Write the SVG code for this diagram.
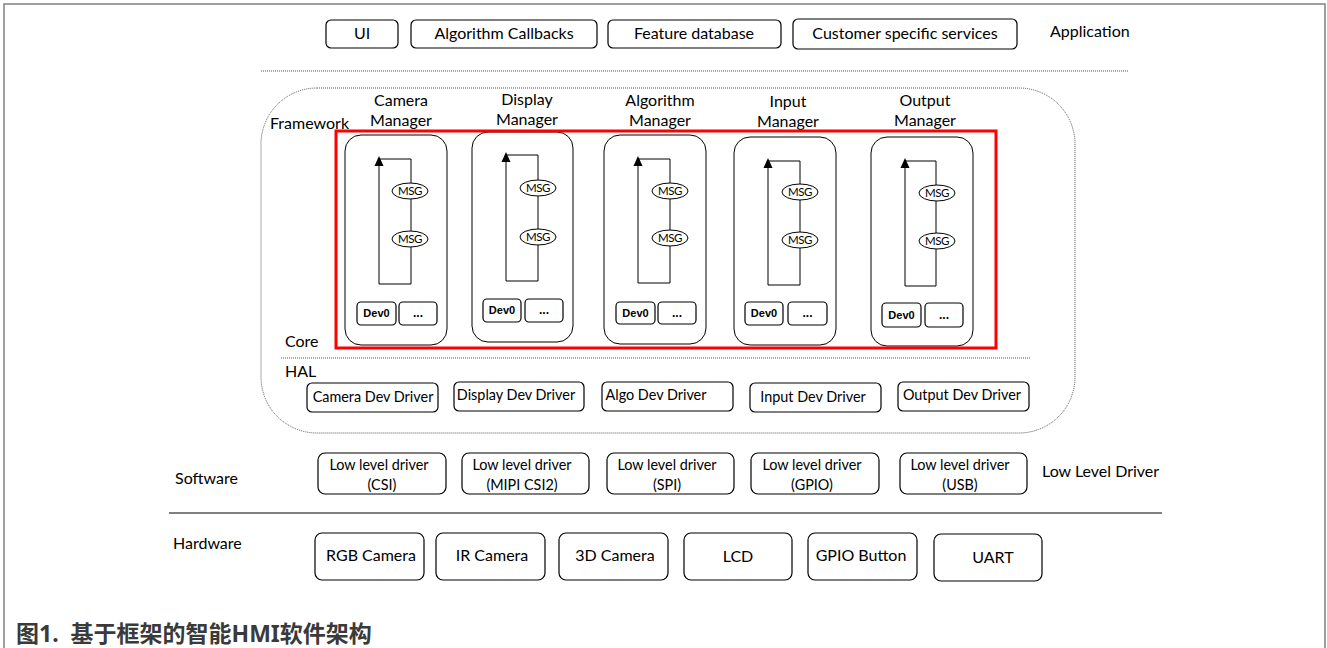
<svg xmlns="http://www.w3.org/2000/svg" width="1327" height="648" viewBox="0 0 1327 648">
<style>
.t{font-family:Lato,"Liberation Sans",sans-serif;font-size:16px;fill:#000;text-anchor:middle}
.ts{font-family:Lato,"Liberation Sans",sans-serif;font-size:14.4px;fill:#000;text-anchor:middle}
.lbl{font-family:Lato,"Liberation Sans",sans-serif;font-size:16px;fill:#000}
.box{fill:#fff;stroke:#000;stroke-width:1.2}
.mgr{fill:none;stroke:#000;stroke-width:1}
.loop{fill:none;stroke:#000;stroke-width:1}
.msg{fill:#fff;stroke:#000;stroke-width:1}
.msgt{font-family:Lato,"Liberation Sans",sans-serif;font-size:11.5px;fill:#000;text-anchor:middle;letter-spacing:-0.5px}
.dev{fill:#fff;stroke:#000;stroke-width:1.2}
.devt{font-family:"Liberation Sans",Arial,sans-serif;font-size:11px;font-weight:bold;fill:#000;text-anchor:middle}
.dots{font-family:"Liberation Sans",Arial,sans-serif;font-size:12px;font-weight:bold;fill:#000;text-anchor:middle}
.dotted{fill:none;stroke:#555;stroke-width:1;stroke-dasharray:1 1}
</style>
<rect width="1327" height="648" fill="#fff"/>
<path d="M4,648 V4 H1325 V648" fill="none" stroke="#808080" stroke-width="1.5"/>

<!-- Application row -->
<g id="app">
<rect class="box" x="326" y="20" width="72" height="28" rx="5"/><text class="t" x="362" y="39">UI</text>
<rect class="box" x="411" y="20" width="186" height="28" rx="5"/><text class="t" x="504" y="39">Algorithm Callbacks</text>
<rect class="box" x="608" y="20" width="173" height="28" rx="5"/><text class="t" x="694" y="39">Feature database</text>
<rect class="box" x="793" y="19" width="224" height="30" rx="5"/><text class="t" x="905" y="39">Customer specific services</text>
<text class="lbl" x="1050" y="37">Application</text>
</g>
<line class="dotted" x1="261" y1="71" x2="1128" y2="71"/>

<!-- Framework -->
<g id="framework">
<rect class="dotted" x="261" y="88" width="814" height="345" rx="56" ry="56"/>
<text class="lbl" x="270" y="129">Framework</text>
<text class="lbl" x="285" y="347">Core</text>
<line class="dotted" x1="281" y1="358" x2="1031" y2="358"/>
<text class="lbl" x="285" y="377">HAL</text>
</g>

<!-- Managers -->
<g id="camera-manager">
<text class="t" x="401" y="106">Camera</text><text class="t" x="401" y="126">Manager</text>
<rect class="mgr" x="345" y="135" width="102" height="210" rx="16"/>
<path class="loop" d="M379,159 H411 V284 H379 V164"/><polygon points="379,156 374.5,166 383.5,166"/>
<ellipse class="msg" cx="410" cy="191" rx="18" ry="8"/><text class="msgt" x="410" y="195">MSG</text>
<ellipse class="msg" cx="410" cy="239" rx="18" ry="8"/><text class="msgt" x="410" y="243">MSG</text>
<rect class="dev" x="357" y="302" width="39" height="23" rx="4"/><text class="devt" x="376.5" y="317">Dev0</text>
<rect class="dev" x="399" y="302" width="38" height="23" rx="4"/><text class="dots" x="418" y="317">...</text>
</g>
<g id="display-manager">
<text class="t" x="527" y="105">Display</text><text class="t" x="527" y="125">Manager</text>
<rect class="mgr" x="472" y="132" width="101" height="210" rx="16"/>
<path class="loop" d="M506,155 H538 V281 H506 V160"/><polygon points="506,152 501.5,162 510.5,162"/>
<ellipse class="msg" cx="538" cy="188" rx="18" ry="8"/><text class="msgt" x="538" y="192">MSG</text>
<ellipse class="msg" cx="538" cy="237" rx="18" ry="8"/><text class="msgt" x="538" y="241">MSG</text>
<rect class="dev" x="483" y="299" width="38" height="23" rx="4"/><text class="devt" x="502" y="314">Dev0</text>
<rect class="dev" x="525" y="299" width="38" height="23" rx="4"/><text class="dots" x="544" y="314">...</text>
</g>
<g id="algorithm-manager">
<text class="t" x="660" y="106">Algorithm</text><text class="t" x="660" y="126">Manager</text>
<rect class="mgr" x="604" y="135" width="102" height="209" rx="16"/>
<path class="loop" d="M638,159 H670 V283 H638 V164"/><polygon points="638,156 633.5,166 642.5,166"/>
<ellipse class="msg" cx="670" cy="191" rx="18" ry="8"/><text class="msgt" x="670" y="195">MSG</text>
<ellipse class="msg" cx="670" cy="238" rx="18" ry="8"/><text class="msgt" x="670" y="242">MSG</text>
<rect class="dev" x="616" y="302" width="39" height="22" rx="4"/><text class="devt" x="635.5" y="317">Dev0</text>
<rect class="dev" x="658" y="302" width="38" height="22" rx="4"/><text class="dots" x="677" y="317">...</text>
</g>
<g id="input-manager">
<text class="t" x="788" y="107">Input</text><text class="t" x="788" y="127">Manager</text>
<rect class="mgr" x="734" y="137" width="102" height="208" rx="16"/>
<path class="loop" d="M768,161 H800 V285 H768 V166"/><polygon points="768,158 763.5,168 772.5,168"/>
<ellipse class="msg" cx="800" cy="192" rx="18" ry="8"/><text class="msgt" x="800" y="196">MSG</text>
<ellipse class="msg" cx="800" cy="240" rx="18" ry="8"/><text class="msgt" x="800" y="244">MSG</text>
<rect class="dev" x="745" y="302" width="38" height="23" rx="4"/><text class="devt" x="764" y="317">Dev0</text>
<rect class="dev" x="788" y="302" width="39" height="23" rx="4"/><text class="dots" x="807.5" y="317">...</text>
</g>
<g id="output-manager">
<text class="t" x="925" y="106">Output</text><text class="t" x="925" y="126">Manager</text>
<rect class="mgr" x="871" y="137" width="102" height="209" rx="16"/>
<path class="loop" d="M905,161 H936 V286 H905 V166"/><polygon points="905,158 900.5,168 909.5,168"/>
<ellipse class="msg" cx="937" cy="193" rx="18" ry="8"/><text class="msgt" x="937" y="197">MSG</text>
<ellipse class="msg" cx="937" cy="241" rx="18" ry="8"/><text class="msgt" x="937" y="245">MSG</text>
<rect class="dev" x="882" y="303" width="39" height="24" rx="4"/><text class="devt" x="901.5" y="319">Dev0</text>
<rect class="dev" x="925" y="303" width="38" height="24" rx="4"/><text class="dots" x="944" y="319">...</text>
</g>
<rect id="core-highlight" x="336" y="131" width="660" height="217" fill="none" stroke="#ff0000" stroke-width="3"/>

<!-- HAL drivers -->
<g id="hal">
<rect class="box" x="307" y="383" width="131" height="29" rx="5"/><text class="ts" x="373" y="402">Camera Dev Driver</text>
<rect class="box" x="454" y="382" width="130" height="29" rx="5"/><text class="ts" x="516" y="400">Display Dev Driver</text>
<rect class="box" x="602" y="382" width="131" height="29" rx="5"/><text class="ts" x="656" y="400">Algo Dev Driver</text>
<rect class="box" x="750" y="383" width="131" height="29" rx="5"/><text class="ts" x="813" y="402">Input Dev Driver</text>
<rect class="box" x="898" y="382" width="131" height="29" rx="5"/><text class="ts" x="962" y="400">Output Dev Driver</text>
</g>

<!-- Low level drivers -->
<g id="low-level">
<text class="lbl" x="175" y="484">Software</text>
<rect class="box" x="318" y="453" width="128" height="41" rx="7"/><text class="ts" x="379" y="470">Low level driver</text><text class="ts" x="382" y="490">(CSI)</text>
<rect class="box" x="462" y="453" width="127" height="41" rx="7"/><text class="ts" x="522" y="470">Low level driver</text><text class="ts" x="522" y="490">(MIPI CSI2)</text>
<rect class="box" x="607" y="453" width="127" height="41" rx="7"/><text class="ts" x="667" y="470">Low level driver</text><text class="ts" x="667" y="490">(SPI)</text>
<rect class="box" x="751" y="453" width="128" height="41" rx="7"/><text class="ts" x="812" y="470">Low level driver</text><text class="ts" x="812" y="490">(GPIO)</text>
<rect class="box" x="900" y="453" width="127" height="41" rx="7"/><text class="ts" x="960" y="470">Low level driver</text><text class="ts" x="960" y="490">(USB)</text>
<text class="lbl" x="1042" y="477">Low Level Driver</text>
</g>
<line x1="169" y1="513" x2="1162" y2="513" stroke="#000" stroke-width="1"/>

<!-- Hardware -->
<g id="hardware">
<text class="lbl" x="173" y="549">Hardware</text>
<rect class="box" x="315" y="533" width="109" height="47" rx="7"/><text class="t" x="371" y="561">RGB Camera</text>
<rect class="box" x="436" y="533" width="109" height="47" rx="7"/><text class="t" x="492" y="561">IR Camera</text>
<rect class="box" x="559" y="533" width="109" height="47" rx="7"/><text class="t" x="615" y="561">3D Camera</text>
<rect class="box" x="684" y="533" width="108" height="47" rx="7"/><text class="t" x="738" y="562">LCD</text>
<rect class="box" x="808" y="533" width="109" height="47" rx="7"/><text class="t" x="861" y="561">GPIO Button</text>
<rect class="box" x="934" y="534" width="108" height="47" rx="7"/><text class="t" x="993" y="563">UART</text>
</g>

<text x="16" y="642" font-family="'Noto Sans','Noto Sans CJK SC',sans-serif" font-size="23" font-weight="bold" fill="#3a3a3a" xml:space="preserve">图1.  基于框架的智能HMI软件架构</text>
</svg>
